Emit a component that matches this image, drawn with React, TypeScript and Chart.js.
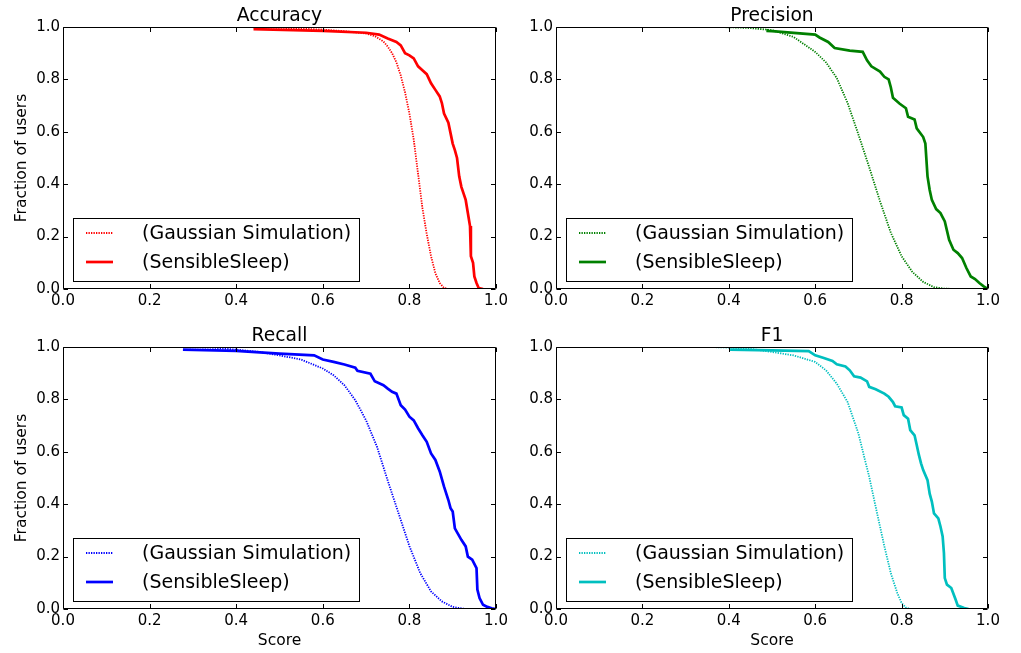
import React, { useEffect, useRef } from "react";
import { Chart, registerables } from "chart.js";

Chart.register(...registerables);

const FONT = "'DejaVu Sans', 'Liberation Sans', sans-serif";

const tickValues = [0, 0.2, 0.4, 0.6, 0.8, 1.0];
const legendLabels = ["(Gaussian Simulation)", "(SensibleSleep)"];
const panelTitles = ["Accuracy", "Precision", "Recall", "F1"];
const yAxisLabel = "Fraction of users";
const xAxisLabel = "Score";

type Pt = [number, number];

const accuracyGaussian: Pt[] = [
  [0.37, 1.0], [0.45, 0.999], [0.5, 0.997], [0.55, 0.994], [0.6, 0.99], [0.65, 0.984],
  [0.7, 0.975], [0.72, 0.965], [0.74, 0.945], [0.75, 0.925], [0.76, 0.9], [0.77, 0.865],
  [0.78, 0.815], [0.79, 0.75], [0.8, 0.67], [0.81, 0.57], [0.82, 0.44], [0.83, 0.31],
  [0.84, 0.21], [0.85, 0.125], [0.86, 0.06], [0.87, 0.023], [0.88, 0.004], [0.89, 0.0], [0.915, 0.0],
];
const accuracySensible: Pt[] = [
  [0.44, 0.992], [0.6, 0.985], [0.7, 0.978], [0.73, 0.971], [0.75, 0.956], [0.77, 0.943],
  [0.78, 0.93], [0.79, 0.9], [0.8, 0.892], [0.81, 0.88], [0.82, 0.85], [0.83, 0.835],
  [0.84, 0.82], [0.85, 0.785], [0.86, 0.76], [0.87, 0.735], [0.875, 0.71], [0.88, 0.67],
  [0.89, 0.635], [0.895, 0.595], [0.9, 0.555], [0.905, 0.53], [0.91, 0.5], [0.915, 0.43],
  [0.92, 0.39], [0.925, 0.365], [0.93, 0.34], [0.935, 0.29], [0.94, 0.24], [0.942, 0.125],
  [0.947, 0.1], [0.95, 0.048], [0.955, 0.023], [0.96, 0.004], [0.97, 0.0],
];

const precisionGaussian: Pt[] = [
  [0.357, 1.0], [0.4, 0.999], [0.45, 0.996], [0.5, 0.988], [0.55, 0.962], [0.6, 0.905],
  [0.625, 0.865], [0.65, 0.805], [0.675, 0.71], [0.7, 0.59], [0.725, 0.465], [0.75, 0.335],
  [0.775, 0.215], [0.8, 0.125], [0.825, 0.065], [0.85, 0.027], [0.875, 0.007], [0.9, 0.001], [0.96, 0.0],
];
const precisionSensible: Pt[] = [
  [0.49, 0.992], [0.49, 0.985], [0.5, 0.984], [0.6, 0.971], [0.61, 0.96], [0.63, 0.943],
  [0.645, 0.92], [0.68, 0.91], [0.71, 0.905], [0.72, 0.873], [0.73, 0.85], [0.75, 0.83],
  [0.76, 0.81], [0.77, 0.8], [0.775, 0.77], [0.78, 0.73], [0.795, 0.708], [0.81, 0.69],
  [0.815, 0.657], [0.83, 0.647], [0.835, 0.613], [0.85, 0.58], [0.855, 0.555], [0.86, 0.43],
  [0.865, 0.378], [0.87, 0.34], [0.88, 0.305], [0.89, 0.29], [0.9, 0.258], [0.91, 0.188],
  [0.92, 0.15], [0.93, 0.137], [0.94, 0.118], [0.95, 0.08], [0.96, 0.048], [0.97, 0.038],
  [0.98, 0.023], [0.99, 0.01], [1.0, 0.0],
];

const recallGaussian: Pt[] = [
  [0.235, 1.0], [0.3, 0.999], [0.35, 0.997], [0.4, 0.99], [0.45, 0.982], [0.5, 0.968],
  [0.55, 0.952], [0.6, 0.918], [0.625, 0.892], [0.65, 0.854], [0.675, 0.797], [0.7, 0.72],
  [0.725, 0.62], [0.75, 0.49], [0.775, 0.365], [0.8, 0.24], [0.825, 0.137], [0.85, 0.067],
  [0.875, 0.029], [0.9, 0.008], [0.925, 0.001], [0.95, 0.0], [1.0, 0.0],
];
const recallSensible: Pt[] = [
  [0.277, 0.99], [0.4, 0.985], [0.5, 0.975], [0.58, 0.968], [0.6, 0.952], [0.625, 0.943],
  [0.65, 0.933], [0.675, 0.921], [0.68, 0.909], [0.71, 0.898], [0.72, 0.869], [0.74, 0.854],
  [0.75, 0.841], [0.76, 0.829], [0.77, 0.822], [0.78, 0.778], [0.79, 0.761], [0.8, 0.734],
  [0.81, 0.72], [0.82, 0.69], [0.83, 0.663], [0.84, 0.638], [0.85, 0.594], [0.86, 0.569],
  [0.87, 0.525], [0.88, 0.467], [0.89, 0.416], [0.895, 0.385], [0.9, 0.372], [0.905, 0.308],
  [0.92, 0.264], [0.93, 0.239], [0.935, 0.2], [0.945, 0.188], [0.955, 0.156], [0.957, 0.074],
  [0.962, 0.042], [0.97, 0.016], [0.98, 0.008], [0.99, 0.003], [1.0, 0.0],
];

const f1Gaussian: Pt[] = [
  [0.346, 1.0], [0.4, 0.998], [0.45, 0.993], [0.5, 0.981], [0.55, 0.968], [0.6, 0.943],
  [0.625, 0.911], [0.65, 0.86], [0.675, 0.79], [0.7, 0.67], [0.715, 0.57], [0.725, 0.505],
  [0.74, 0.39], [0.75, 0.315], [0.76, 0.24], [0.775, 0.137], [0.79, 0.061], [0.8, 0.023],
  [0.81, 0.005], [0.82, 0.0], [0.868, 0.0],
];
const f1Sensible: Pt[] = [
  [0.403, 0.99], [0.5, 0.987], [0.585, 0.984], [0.6, 0.968], [0.62, 0.958], [0.64, 0.947],
  [0.65, 0.934], [0.67, 0.926], [0.68, 0.911], [0.69, 0.888], [0.705, 0.883], [0.72, 0.869],
  [0.725, 0.848], [0.74, 0.839], [0.76, 0.822], [0.77, 0.81], [0.78, 0.79], [0.785, 0.774],
  [0.8, 0.769], [0.805, 0.74], [0.815, 0.726], [0.82, 0.683], [0.83, 0.663], [0.835, 0.626],
  [0.84, 0.588], [0.845, 0.556], [0.85, 0.53], [0.86, 0.492], [0.865, 0.44], [0.87, 0.41],
  [0.875, 0.365], [0.885, 0.346], [0.89, 0.315], [0.895, 0.277], [0.898, 0.213], [0.9, 0.118],
  [0.905, 0.093], [0.915, 0.08], [0.925, 0.036], [0.93, 0.013], [0.945, 0.004], [0.955, 0.0],
];

const panelColors = ["#ff0000", "#008000", "#0000ff", "#00bfbf"];
const panelSeries: [Pt[], Pt[]][] = [
  [accuracyGaussian, accuracySensible],
  [precisionGaussian, precisionSensible],
  [recallGaussian, recallSensible],
  [f1Gaussian, f1Sensible],
];

type Layout = {
  left: number; top: number; w: number; h: number;
  areaLeft: number; areaRight: number; areaTop: number; areaBottom: number;
  yTitle: boolean; xTitle: boolean;
};

const layouts: Layout[] = [
  { left: 0, top: 0, w: 510, h: 320, areaLeft: 63, areaRight: 496, areaTop: 27, areaBottom: 289, yTitle: true, xTitle: false },
  { left: 510, top: 0, w: 511, h: 320, areaLeft: 46, areaRight: 478, areaTop: 27, areaBottom: 289, yTitle: false, xTitle: false },
  { left: 0, top: 320, w: 510, h: 333, areaLeft: 63, areaRight: 496, areaTop: 27, areaBottom: 289, yTitle: true, xTitle: true },
  { left: 510, top: 320, w: 511, h: 333, areaLeft: 46, areaRight: 478, areaTop: 27, areaBottom: 289, yTitle: false, xTitle: true },
];

const framePlugin = {
  id: "frameTicksLegend",
  afterDatasetsDraw(chart: any) {
    const { ctx, chartArea: a, scales } = chart;
    ctx.save();
    ctx.strokeStyle = "#000";
    ctx.lineWidth = 1;
    ctx.beginPath();
    const L = Math.round(a.left) + 0.5, R = Math.round(a.right) - 0.5;
    const T = Math.round(a.top) + 0.5, B = Math.round(a.bottom) - 0.5;
    ctx.rect(L, T, R - L, B - T);
    const tl = 4.5;
    for (const v of tickValues) {
      const x = Math.round(scales.x.getPixelForValue(v)) + 0.5;
      ctx.moveTo(x, B); ctx.lineTo(x, B - tl);
      ctx.moveTo(x, T); ctx.lineTo(x, T + tl);
      const y = Math.round(scales.y.getPixelForValue(v)) + 0.5;
      ctx.moveTo(L, y); ctx.lineTo(L + tl, y);
      ctx.moveTo(R, y); ctx.lineTo(R - tl, y);
    }
    ctx.stroke();

    // legend
    const bx = Math.round(a.left) + 10.5;
    const by = Math.round(a.bottom) - 71 + 0.5;
    const bw = 286, bh = 63;
    ctx.fillStyle = "#fff";
    ctx.fillRect(bx, by, bw, bh);
    ctx.strokeStyle = "#000";
    ctx.lineWidth = 1;
    ctx.strokeRect(bx, by, bw, bh);
    const rows = [a.bottom - 56, a.bottom - 27];
    chart.data.datasets.forEach((ds: any, i: number) => {
      const y = rows[i];
      ctx.save();
      ctx.strokeStyle = ds.borderColor;
      ctx.lineWidth = ds.borderWidth;
      ctx.setLineDash(ds.borderDash || []);
      ctx.beginPath();
      ctx.moveTo(a.left + 23, y);
      ctx.lineTo(a.left + 50, y);
      ctx.stroke();
      ctx.restore();
      ctx.fillStyle = "#000";
      ctx.font = `19px ${FONT}`;
      ctx.textBaseline = "middle";
      ctx.textAlign = "left";
      ctx.fillText(ds.label, a.left + 79, y + 1);
    });
    ctx.restore();
  },
};

function Panel({ index }: { index: number }) {
  const ref = useRef<HTMLCanvasElement>(null);
  const lay = layouts[index];
  useEffect(() => {
    if (!ref.current) return;
    const color = panelColors[index];
    const [gauss, sensible] = panelSeries[index];
    const chart = new Chart(ref.current, {
      type: "line",
      data: {
        datasets: [
          {
            label: legendLabels[0],
            data: gauss.map(([x, y]) => ({ x, y })),
            borderColor: color,
            borderWidth: 1.8,
            borderDash: [1.3, 1.2],
            pointRadius: 0,
            fill: false,
            tension: 0,
            order: 1,
          },
          {
            label: legendLabels[1],
            data: sensible.map(([x, y]) => ({ x, y })),
            borderColor: color,
            borderWidth: 2.7,
            pointRadius: 0,
            fill: false,
            tension: 0,
            order: 0,
          },
        ],
      },
      options: {
        responsive: false,
        animation: false,
        events: [],
        layout: { padding: { left: 0, right: lay.w - lay.areaRight, top: 0, bottom: 0 } },
        plugins: {
          legend: { display: false },
          tooltip: { enabled: false },
          title: {
            display: true,
            text: panelTitles[index],
            fullSize: false,
            color: "#000",
            font: { family: FONT, size: 18.7, weight: "normal", lineHeight: 1.2 },
            padding: { top: lay.areaTop - 18.7 * 1.2, bottom: 0 },
          },
        },
        scales: {
          x: {
            type: "linear",
            min: 0,
            max: 1,
            grid: { display: false, drawTicks: false, tickLength: 0 },
            border: { display: false },
            afterBuildTicks: (s: any) => { s.ticks = tickValues.map((v) => ({ value: v })); },
            afterFit: (s: any) => { s.height = lay.h - lay.areaBottom; s.paddingLeft = 0; s.paddingRight = 0; },
            ticks: {
              autoSkip: false,
              maxRotation: 0,
              padding: 3.5,
              color: "#000",
              font: { family: FONT, size: 15 },
              callback: (v: any) => Number(v).toFixed(1),
            },
            title: {
              display: lay.xTitle,
              text: xAxisLabel,
              color: "#000",
              font: { family: FONT, size: 15.5, lineHeight: 1.2 },
              padding: { top: 0, bottom: 2.7 },
            },
          },
          y: {
            type: "linear",
            min: 0,
            max: 1,
            grid: { display: false, drawTicks: false, tickLength: 0 },
            border: { display: false },
            afterBuildTicks: (s: any) => { s.ticks = tickValues.map((v) => ({ value: v })); },
            afterFit: (s: any) => { s.width = lay.areaLeft; s.paddingTop = 0; s.paddingBottom = 0; },
            ticks: {
              autoSkip: false,
              padding: 3,
              color: "#000",
              font: { family: FONT, size: 15 },
              callback: (v: any) => Number(v).toFixed(1),
            },
            title: {
              display: lay.yTitle,
              text: yAxisLabel,
              color: "#000",
              font: { family: FONT, size: 15.5, lineHeight: 1.2 },
              padding: { top: 12.7, bottom: 0 },
            },
          },
        },
      } as any,
      plugins: [framePlugin],
    });
    return () => chart.destroy();
  }, [index]);
  return (
    <canvas
      ref={ref}
      width={lay.w}
      height={lay.h}
      style={{ position: "absolute", left: lay.left, top: lay.top, width: lay.w, height: lay.h }}
    />
  );
}

export default function App() {
  return (
    <div style={{ position: "absolute", left: 0, top: 0, width: 1021, height: 653, background: "#fff" }}>
      {panelTitles.map((_, i) => (
        <Panel key={i} index={i} />
      ))}
    </div>
  );
}
